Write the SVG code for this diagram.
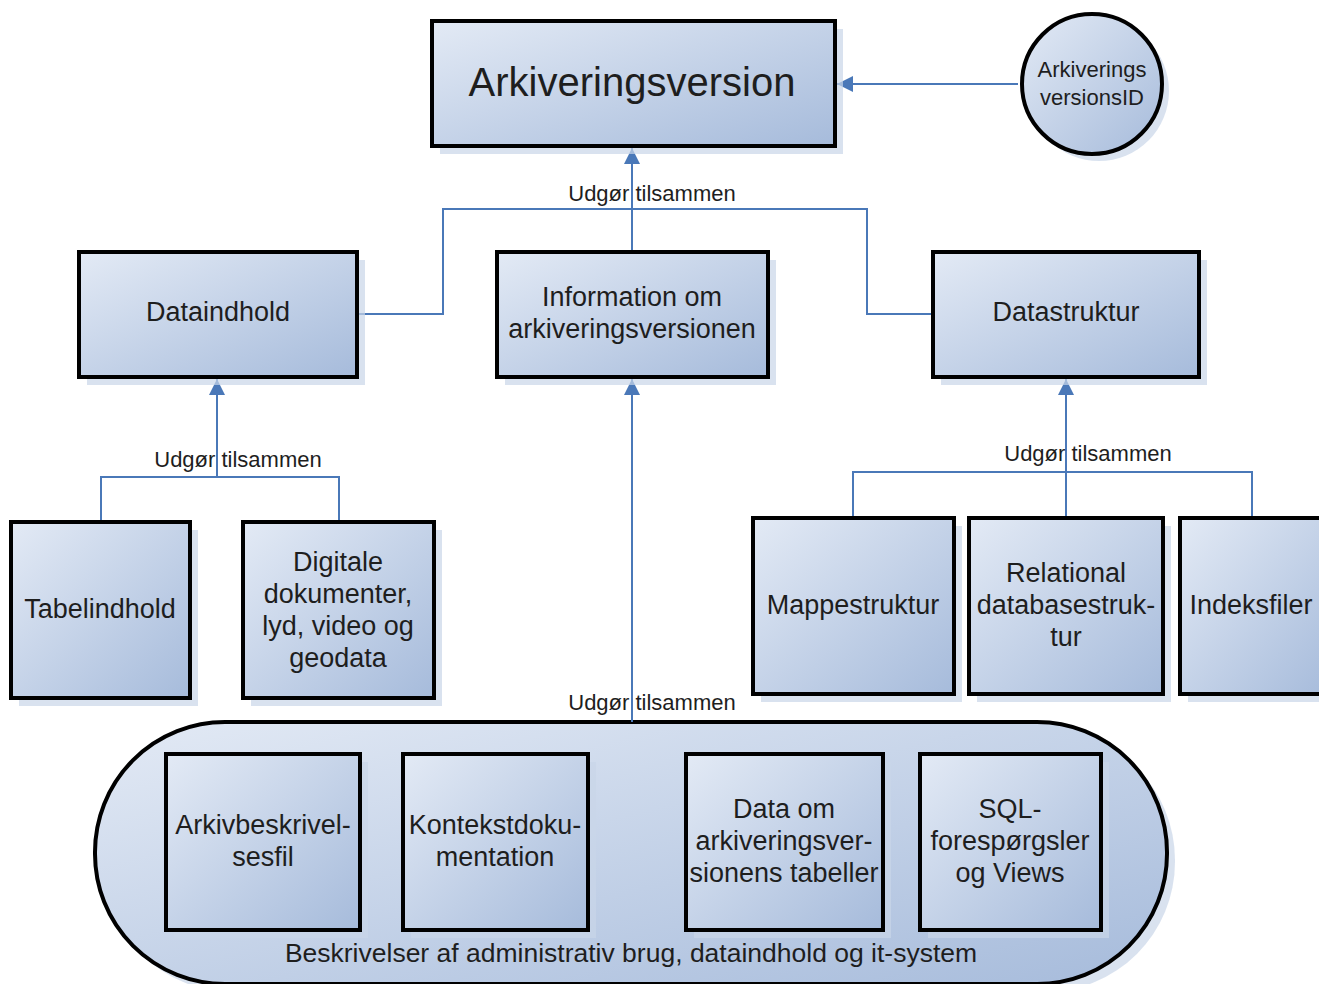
<svg xmlns="http://www.w3.org/2000/svg" width="1319" height="984" viewBox="0 0 1319 984">
<style>
.box{fill:url(#g);stroke:#000;stroke-width:4}
.sh{fill:#c9d5e8;opacity:0.7}
.t{font-family:"Liberation Sans",Arial,sans-serif;font-size:27px;fill:#1e1e1e;text-anchor:middle}
.lbl{font-family:"Liberation Sans",Arial,sans-serif;font-size:22px;fill:#1e1e1e;text-anchor:middle}
.big{font-size:40px}
.foot{font-size:26.5px}
.c{fill:none;stroke:#4a78b8;stroke-width:2}
</style>
<defs>
<linearGradient id="g" x1="0" y1="0" x2="1" y2="1">
<stop offset="0" stop-color="#e3eaf5"/>
<stop offset="1" stop-color="#a6bbdb"/>
</linearGradient>
<marker id="a" viewBox="0 0 10 10" refX="10" refY="5" markerWidth="8" markerHeight="8" orient="auto" markerUnits="strokeWidth">
<path d="M0,0 L10,5 L0,10 z" fill="#4a78b8"/>
</marker>
</defs>
<rect width="1319" height="984" fill="#fff"/>

<g id="pill">
<rect class="sh" x="103" y="730" width="1072" height="262" rx="130"/>
<rect class="box" x="95" y="722" width="1072" height="262" rx="130"/>
<text class="t foot" x="631" y="962">Beskrivelser af administrativ brug, dataindhold og it-system</text>
</g>

<g id="connectors">
<path class="c" d="M1018,84 L837,84" marker-end="url(#a)"/>
<path class="c" d="M632,252 L632,148" marker-end="url(#a)"/>
<path class="c" d="M357,314 L443,314 L443,209 L867,209 L867,314 L933,314"/>
<path class="c" d="M632,722 L632,379" marker-end="url(#a)"/>
<path class="c" d="M217,477 L217,379" marker-end="url(#a)"/>
<path class="c" d="M101,522 L101,477 L339,477 L339,522"/>
<path class="c" d="M1066,518 L1066,379" marker-end="url(#a)"/>
<path class="c" d="M853,518 L853,472 L1252,472 L1252,518"/>
<text class="lbl" x="652" y="201">Udgør tilsammen</text>
<text class="lbl" x="238" y="467">Udgør tilsammen</text>
<text class="lbl" x="1088" y="461">Udgør tilsammen</text>
<text class="lbl" x="652" y="710">Udgør tilsammen</text>
</g>

<g id="arkiveringsversion">
<rect class="sh" x="440" y="29" width="403" height="125"/>
<rect class="box" x="432" y="21" width="403" height="125"/>
<text class="t big" x="632" y="96">Arkiveringsversion</text>
</g>

<g id="versionsid">
<circle class="sh" cx="1099" cy="91" r="70"/>
<circle cx="1092" cy="84" r="70" fill="url(#g)" stroke="#000" stroke-width="4"/>
<text class="lbl" x="1092" y="77">Arkiverings</text>
<text class="lbl" x="1092" y="105">versionsID</text>
</g>

<g id="dataindhold">
<rect class="sh" x="87" y="260" width="278" height="125"/>
<rect class="box" x="79" y="252" width="278" height="125"/>
<text class="t" x="218" y="321">Dataindhold</text>
</g>

<g id="information">
<rect class="sh" x="505" y="260" width="271" height="125"/>
<rect class="box" x="497" y="252" width="271" height="125"/>
<text class="t" x="632" y="306">Information om</text>
<text class="t" x="632" y="338">arkiveringsversionen</text>
</g>

<g id="datastruktur">
<rect class="sh" x="941" y="260" width="266" height="125"/>
<rect class="box" x="933" y="252" width="266" height="125"/>
<text class="t" x="1066" y="321">Datastruktur</text>
</g>

<g id="tabelindhold">
<rect class="sh" x="19" y="530" width="179" height="176"/>
<rect class="box" x="11" y="522" width="179" height="176"/>
<text class="t" x="100" y="618">Tabelindhold</text>
</g>

<g id="digitale">
<rect class="sh" x="251" y="530" width="191" height="176"/>
<rect class="box" x="243" y="522" width="191" height="176"/>
<text class="t" x="338" y="571">Digitale</text>
<text class="t" x="338" y="603">dokumenter,</text>
<text class="t" x="338" y="635">lyd, video og</text>
<text class="t" x="338" y="667">geodata</text>
</g>

<g id="mappestruktur">
<rect class="sh" x="761" y="526" width="201" height="176"/>
<rect class="box" x="753" y="518" width="201" height="176"/>
<text class="t" x="853" y="614">Mappestruktur</text>
</g>

<g id="relational">
<rect class="sh" x="977" y="526" width="194" height="176"/>
<rect class="box" x="969" y="518" width="194" height="176"/>
<text class="t" x="1066" y="582">Relational</text>
<text class="t" x="1066" y="614">databasestruk-</text>
<text class="t" x="1066" y="646">tur</text>
</g>

<g id="indeksfiler">
<rect class="sh" x="1188" y="526" width="150" height="176"/>
<rect class="box" x="1180" y="518" width="150" height="176"/>
<text class="t" x="1251" y="614">Indeksfiler</text>
</g>

<g id="arkivbeskrivelsesfil">
<rect class="sh" x="174" y="762" width="194" height="176"/>
<rect class="box" x="166" y="754" width="194" height="176"/>
<text class="t" x="263" y="834">Arkivbeskrivel-</text>
<text class="t" x="263" y="866">sesfil</text>
</g>

<g id="kontekst">
<rect class="sh" x="411" y="762" width="185" height="176"/>
<rect class="box" x="403" y="754" width="185" height="176"/>
<text class="t" x="495" y="834">Kontekstdoku-</text>
<text class="t" x="495" y="866">mentation</text>
</g>

<g id="dataom">
<rect class="sh" x="694" y="762" width="197" height="176"/>
<rect class="box" x="686" y="754" width="197" height="176"/>
<text class="t" x="784" y="818">Data om</text>
<text class="t" x="784" y="850">arkiveringsver-</text>
<text class="t" x="784" y="882">sionens tabeller</text>
</g>

<g id="sql">
<rect class="sh" x="928" y="762" width="181" height="176"/>
<rect class="box" x="920" y="754" width="181" height="176"/>
<text class="t" x="1010" y="818">SQL-</text>
<text class="t" x="1010" y="850">forespørgsler</text>
<text class="t" x="1010" y="882">og Views</text>
</g>
</svg>
